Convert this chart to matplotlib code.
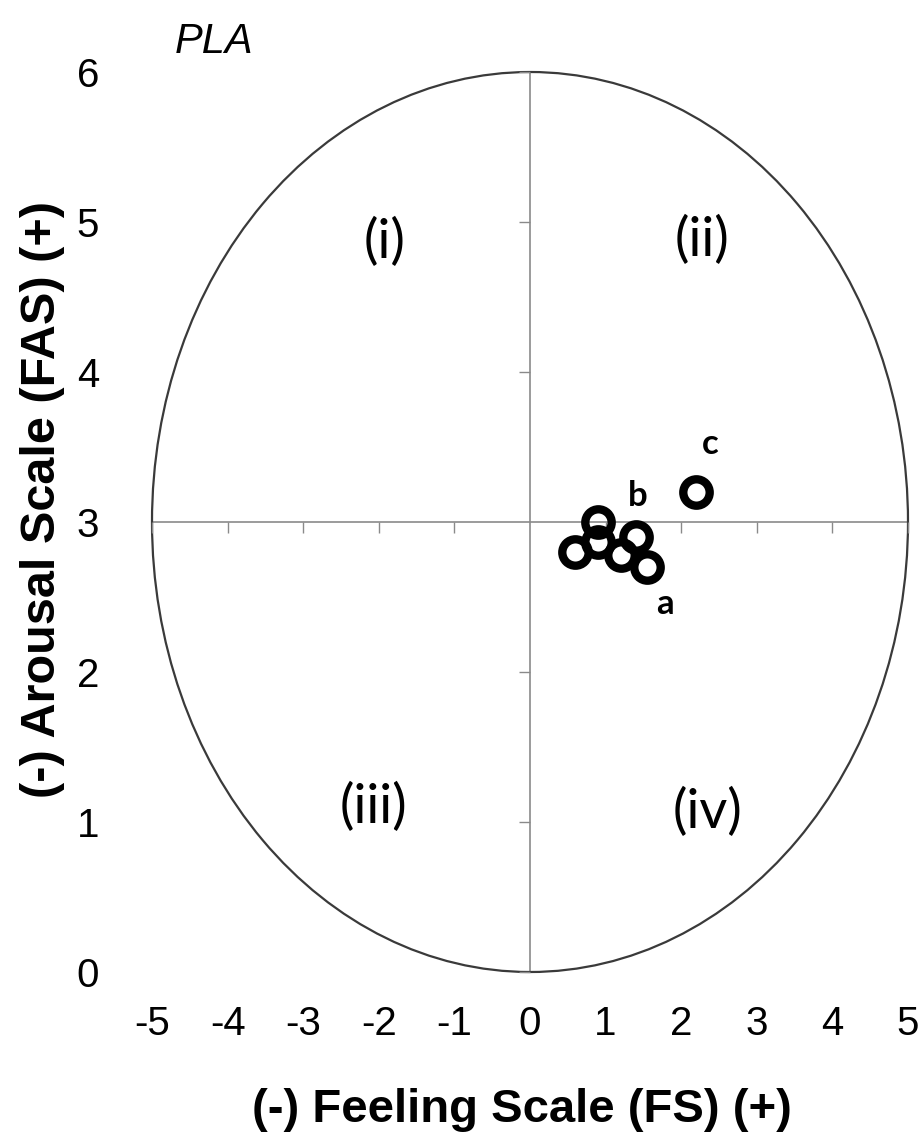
import matplotlib
matplotlib.use("Agg")
import matplotlib.pyplot as plt
from matplotlib.patches import Ellipse
from matplotlib import font_manager

# ---------------- data ----------------
fs_values = [0.6, 0.9, 0.9, 1.2, 1.4, 1.55, 2.2]
fas_values = [2.8, 3.0, 2.87, 2.78, 2.9, 2.7, 3.2]
point_labels = ["a", "b", "c"]
point_label_x = [1.78, 1.42, 2.38]
point_label_y = [2.45, 3.17, 3.52]
quadrant_labels = ["(i)", "(ii)", "(iii)", "(iv)"]
quadrant_x = [-1.93, 2.28, -2.07, 2.35]
quadrant_y = [4.87, 4.88, 1.1, 1.07]
x_ticks = [-5, -4, -3, -2, -1, 0, 1, 2, 3, 4, 5]
y_ticks = [0, 1, 2, 3, 4, 5, 6]
x_label = "(-) Feeling Scale (FS) (+)"
y_label = "(-) Arousal Scale (FAS) (+)"
panel_title = "PLA"

# ---------------- fonts ----------------
names = {f.name for f in font_manager.fontManager.ttflist}
regular = "Liberation Sans"
calib = "Lato" if "Lato" in names else "Open Sans"

W, H = 919, 1138
fig = plt.figure(figsize=(W / 100, H / 100), dpi=100)

left_px, right_px, top_px, bottom_px = 152, 908, 72, 972
ax = fig.add_axes([left_px / W, 1 - bottom_px / H,
                   (right_px - left_px) / W, (bottom_px - top_px) / H])
ax.set_xlim(-5, 5)
ax.set_ylim(0, 6)
for s in ax.spines.values():
    s.set_visible(False)

# ellipse
ax.add_patch(Ellipse((0, 3), 10, 6, fill=False, edgecolor="#3a3a3a",
                     linewidth=1.6, clip_on=False, zorder=2))
# center cross lines
ax.plot([x_ticks[0], x_ticks[-1]], [3, 3], color="#8a8a8a", lw=1.2, zorder=1, clip_on=False)
ax.plot([0, 0], [y_ticks[0], y_ticks[-1]], color="#8a8a8a", lw=1.2, zorder=1, clip_on=False)
# small tick marks on the cross lines
ax.plot([t for t in x_ticks if t != 0], [3] * (len(x_ticks) - 1), linestyle="none",
        marker=3, markersize=8, markeredgewidth=1.0, color="#8a8a8a", clip_on=False)
ax.plot([0] * (len(y_ticks) - 1), [t for t in y_ticks if t != 3], linestyle="none",
        marker=0, markersize=8, markeredgewidth=1.0, color="#8a8a8a", clip_on=False)

# data points
ax.plot(fs_values, fas_values, linestyle="none", marker="o", markersize=19,
        markerfacecolor="none", markeredgecolor="black", markeredgewidth=6, zorder=5)

# point labels
for t, x, y in zip(point_labels, point_label_x, point_label_y):
    ax.text(x, y, t, fontsize=25, fontweight="bold", family=calib,
            ha="center", va="center", zorder=6)

# quadrant labels
for t, x, y in zip(quadrant_labels, quadrant_x, quadrant_y):
    ax.text(x, y, t, fontsize=39, family=calib, ha="center", va="center")

# tick labels
ax.set_xticks(x_ticks)
ax.set_yticks(y_ticks)
ax.set_xticklabels([str(v) for v in x_ticks], family=regular, fontsize=29)
ax.set_yticklabels([str(v) for v in y_ticks], family=regular, fontsize=29)
ax.tick_params(axis="both", length=0)
ax.tick_params(axis="x", pad=24)
ax.tick_params(axis="y", pad=38)

# axis labels
fig.text(522 / W, 1 - 1122 / H, x_label, family=regular, fontweight="bold",
         fontsize=34, ha="center", va="baseline")
fig.text(43 / W, 1 - 500 / H, y_label, family=regular, fontweight="bold",
         fontsize=35, ha="center", va="center", rotation=90)
fig.text(214 / W, 1 - 42 / H, panel_title, family=regular, style="italic",
         fontsize=30, ha="center", va="center")

fig.savefig("out.png", dpi=100, facecolor="white")
